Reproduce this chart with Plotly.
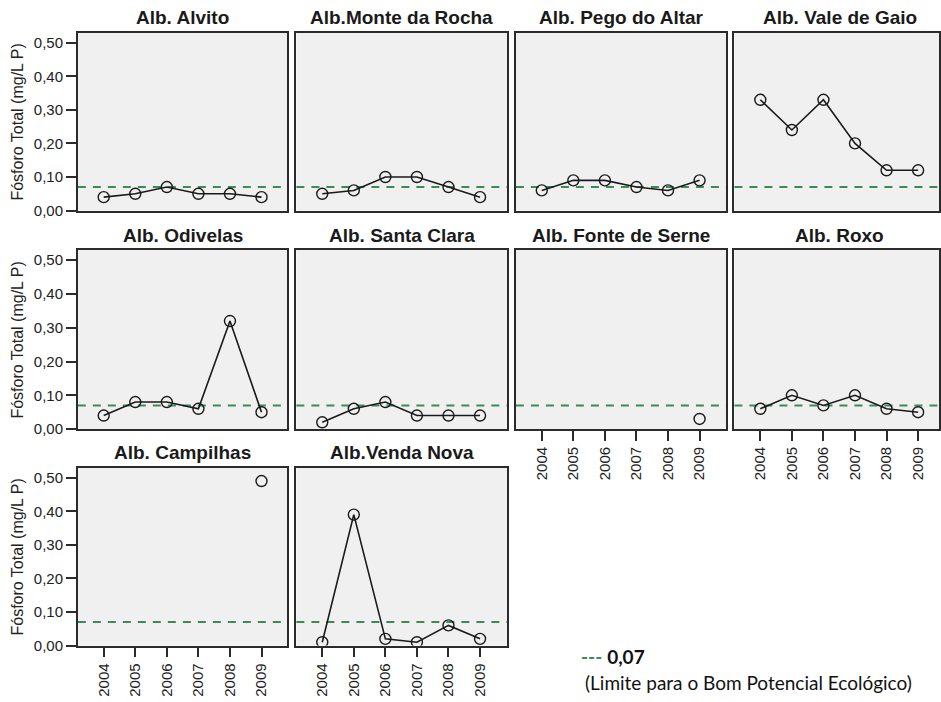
import plotly.graph_objects as go

# ---- data -------------------------------------------------------------
YEARS = [2004, 2005, 2006, 2007, 2008, 2009]
YEAR_LABELS = ["2004", "2005", "2006", "2007", "2008", "2009"]

RESERVOIRS = [
    "Alb. Alvito", "Alb.Monte da Rocha", "Alb. Pego do Altar", "Alb. Vale de Gaio",
    "Alb. Odivelas", "Alb. Santa Clara", "Alb. Fonte de Serne", "Alb. Roxo",
    "Alb. Campilhas", "Alb.Venda Nova",
]

alvito = [0.04, 0.05, 0.07, 0.05, 0.05, 0.04]
monte_da_rocha = [0.05, 0.06, 0.10, 0.10, 0.07, 0.04]
pego_do_altar = [0.06, 0.09, 0.09, 0.07, 0.06, 0.09]
vale_de_gaio = [0.33, 0.24, 0.33, 0.20, 0.12, 0.12]
odivelas = [0.04, 0.08, 0.08, 0.06, 0.32, 0.05]
santa_clara = [0.02, 0.06, 0.08, 0.04, 0.04, 0.04]
fonte_de_serne = [None, None, None, None, None, 0.03]
roxo = [0.06, 0.10, 0.07, 0.10, 0.06, 0.05]
campilhas = [None, None, None, None, None, 0.49]
venda_nova = [0.01, 0.39, 0.02, 0.01, 0.06, 0.02]

PHOSPHORUS = [alvito, monte_da_rocha, pego_do_altar, vale_de_gaio,
              odivelas, santa_clara, fonte_de_serne, roxo,
              campilhas, venda_nova]

THRESHOLD = 0.07
Y_TICKS = [0.0, 0.1, 0.2, 0.3, 0.4, 0.5]
Y_TITLE = "Fósforo Total (mg/L P)"
LIMIT_NOTE = "(Limite para o Bom Potencial Ecológico)"

# ---- layout geometry (pixels) ----------------------------------------
W, H = 941, 702
N_COLS = 4
COL_PX = [(78, 288), (297, 508), (517, 728), (736, 947)]
ROW_PX = [(33, 213), (253, 434), (473, 653)]
X_PAD = 0.82          # years of padding either side of the first/last year
Y_RANGE = [0.0, 0.53]

BG = "#f0f0f0"
FRAME = "#2b2b2b"
GREEN = "#3b8a5a"
FONT = "Liberation Sans, Arial, sans-serif"
NOTE_FONT = "Lato, Open Sans, sans-serif"

fig = go.Figure()
annotations = []
shapes = []

span_years = (YEARS[-1] - YEARS[0]) + 2 * X_PAD
n = len(RESERVOIRS)

for i, (name, vals) in enumerate(zip(RESERVOIRS, PHOSPHORUS)):
    r, c = divmod(i, N_COLS)
    k = i + 1
    xa = "xaxis" if k == 1 else f"xaxis{k}"
    ya = "yaxis" if k == 1 else f"yaxis{k}"
    xr = "x" if k == 1 else f"x{k}"
    yr = "y" if k == 1 else f"y{k}"

    x0p, x1p = COL_PX[c]
    y0p, y1p = ROW_PX[r]
    px_per_year = (COL_PX[0][1] - COL_PX[0][0]) / span_years
    x_lo = YEARS[0] - X_PAD
    x1_vis = min(x1p, W)
    x_hi = x_lo + (x1_vis - x0p) / px_per_year

    fig.add_trace(go.Scatter(
        x=YEARS, y=vals, xaxis=xr, yaxis=yr, mode="lines+markers",
        line=dict(color="#1a1a1a", width=1.6),
        marker=dict(symbol="circle-open", size=11, color="#1a1a1a",
                    line=dict(width=1.4)),
        connectgaps=False, showlegend=False, hoverinfo="x+y",
    ))

    show_x = (i + N_COLS) >= n
    fig.layout[xa] = dict(
        domain=[x0p / W, x1_vis / W], anchor=yr,
        range=[x_lo, x_hi], tickmode="array",
        tickvals=YEARS, ticktext=YEAR_LABELS,
        showticklabels=show_x, ticks="outside" if show_x else "",
        ticklen=10, tickwidth=1.5, tickcolor=FRAME, tickangle=-90,
        tickfont=dict(family=FONT, size=15, color="#222"),
        showline=True, mirror=True, linecolor=FRAME, linewidth=1.6,
        showgrid=False, zeroline=False, fixedrange=True,
    )
    fig.layout[ya] = dict(
        domain=[1 - y1p / H, 1 - y0p / H], anchor=xr,
        range=Y_RANGE, tickmode="array", tickvals=Y_TICKS, tickformat=".2f",
        showticklabels=(c == 0), ticks="outside" if c == 0 else "",
        ticklen=10, tickwidth=1.5, tickcolor=FRAME,
        tickfont=dict(family=FONT, size=15, color="#222"),
        showline=True, mirror=True, linecolor=FRAME, linewidth=1.6,
        showgrid=False, zeroline=False, fixedrange=True,
    )

    # panel background
    shapes.append(dict(type="rect", xref=f"{xr} domain", yref=f"{yr} domain",
                       x0=0, x1=1, y0=0, y1=1, fillcolor=BG,
                       line=dict(width=0), layer="below"))
    # quality threshold
    shapes.append(dict(type="line", xref=f"{xr} domain", yref=yr,
                       x0=0, x1=1, y0=THRESHOLD, y1=THRESHOLD,
                       line=dict(color=GREEN, width=2, dash="8px,7px"),
                       layer="below"))

    # panel title
    annotations.append(dict(
        text=f"<b>{name}</b>", xref="paper", yref="paper",
        x=(x0p + x1p) / 2 / W, y=1 - (y0p - 15) / H,
        xanchor="center", yanchor="middle", showarrow=False,
        font=dict(family=FONT, size=19, color="#1a1a1a"),
    ))

    if c == 0:
        annotations.append(dict(
            text=Y_TITLE, xref="paper", yref="paper",
            x=18 / W, y=1 - (y0p + y1p) / 2 / H, textangle=-90,
            xanchor="center", yanchor="middle", showarrow=False,
            font=dict(family=FONT, size=16, color="#222"),
        ))

# threshold note
thr_txt = f"{THRESHOLD:.2f}".replace(".", ",")
annotations.append(dict(
    text=f"<span style='color:{GREEN}'><b>---</b></span> <b>{thr_txt}</b>",
    xref="paper", yref="paper", x=580 / W, y=1 - 664 / H,
    xanchor="left", yanchor="middle", showarrow=False,
    font=dict(family=NOTE_FONT, size=19, color="#111"),
))
annotations.append(dict(
    text=LIMIT_NOTE, xref="paper", yref="paper", x=584 / W, y=1 - 690 / H,
    xanchor="left", yanchor="middle", showarrow=False,
    font=dict(family=NOTE_FONT, size=19, color="#111"),
))

fig.update_layout(
    width=W, height=H, autosize=False,
    margin=dict(l=0, r=0, t=0, b=0),
    paper_bgcolor="white", plot_bgcolor="rgba(0,0,0,0)",
    separators=",.",
    annotations=annotations, shapes=shapes,
    showlegend=False,
)

fig.write_html("out.html")
